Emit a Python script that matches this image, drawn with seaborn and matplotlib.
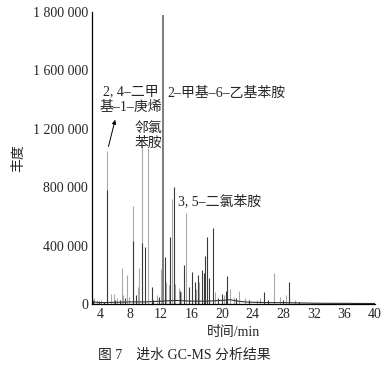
# 进水 GC-MS 总离子流色谱图 (图 7)
import numpy as np
import pandas as pd
import matplotlib
matplotlib.use("Agg")
import matplotlib.pyplot as plt
import seaborn as sns

sns.set_style("white")
plt.rcParams['font.family'] = ['Liberation Serif', 'Noto Sans CJK SC']
plt.rcParams['font.size'] = 10

# 深色谱线 (保留时间/min, 丰度)
dark_t = [3.1, 3.9, 4.5, 4.9, 6.0, 6.6, 7.3, 8.3, 8.7, 9.5, 9.9, 10.8, 11.0, 11.8,
          12.5, 13.2, 13.75, 14.5, 15.0, 15.6, 16.0, 16.4, 16.9, 17.3, 17.6, 17.8,
          18.0, 18.3, 18.8, 19.5, 20.0, 20.5, 20.6, 21.8, 23.5, 25.5, 26.0, 28.0,
          28.7, 30.0, 32.0, 36.0]
dark_h = [30e3, 20e3, 15e3, 780e3, 30e3, 30e3, 40e3, 430e3, 60e3, 420e3, 390e3,
          120e3, 30e3, 45e3, 320e3, 460e3, 800e3, 90e3, 270e3, 120e3, 220e3, 150e3,
          200e3, 230e3, 215e3, 330e3, 460e3, 180e3, 520e3, 40e3, 70e3, 90e3, 190e3,
          40e3, 25e3, 80e3, 30e3, 30e3, 150e3, 15e3, 10e3, 8e3]

# 灰色谱线
grey_t = [3.3, 3.6, 4.2, 4.9, 5.5, 5.8, 6.3, 6.9, 7.1, 7.5, 7.8, 8.3, 9.0, 9.1,
          9.5, 10.3, 11.5, 12.0, 12.7, 13.0, 13.5, 13.9, 14.3, 14.6, 15.3, 16.6, 17.0,
          19.0, 20.3, 21.0, 21.5, 22.2, 23.0, 24.5, 25.0, 26.8, 27.5, 28.3, 29.5]
grey_h = [40e3, 30e3, 25e3, 1050e3, 70e3, 70e3, 40e3, 250e3, 60e3, 200e3, 50e3,
          670e3, 120e3, 250e3, 1080e3, 1070e3, 60e3, 240e3, 150e3, 130e3, 720e3,
          140e3, 110e3, 80e3, 620e3, 100e3, 150e3, 80e3, 60e3, 100e3, 50e3, 90e3,
          40e3, 30e3, 40e3, 215e3, 50e3, 60e3, 30e3]

# 主峰
main_t = [12.25]
main_h = [1980e3]

# 基线
base_t = [3, 4, 6, 8, 10, 12, 14, 16, 18, 20, 21, 22, 23, 24, 26, 28, 30, 32, 34, 36, 38, 40]
base_h = [15e3, 10e3, 12e3, 15e3, 15e3, 20e3, 25e3, 20e3, 20e3, 25e3, 30e3, 20e3,
          15e3, 12e3, 10e3, 10e3, 8e3, 6e3, 5e3, 5e3, 4e3, 4e3]

y_ticks = [0, 400e3, 800e3, 1200e3, 1600e3, 2000e3]
y_labels = ["0", "400 000", "800 000", "1 200 000", "1 600 000", "1 800 000"]
x_ticks = [4, 8, 12, 16, 20, 24, 28, 32, 36, 40]

fig = plt.figure(figsize=(3.92, 3.82), dpi=100)
ax = fig.add_axes([0.235, 0.204, 0.722, 0.765])

ax.vlines(grey_t, 0, grey_h, color="#a8a8a8", linewidth=0.8)
ax.vlines(dark_t, 0, dark_h, color="#3a3a3a", linewidth=0.8)
ax.vlines(main_t, 0, main_h, color="#666666", linewidth=1.2)
sns.lineplot(x=base_t, y=base_h, ax=ax, color="#333333", linewidth=0.8)

ax.set_xlim(3, 40)
ax.set_ylim(0, 2000e3)
ax.set_xticks(x_ticks)
ax.set_yticks(y_ticks)
ax.set_yticklabels(y_labels)
ax.set_yticks(np.arange(200e3, 2000e3, 400e3), minor=True)
ax.tick_params(direction="in", length=3, width=0.8, labelsize=10, pad=3)
ax.tick_params(which="minor", direction="in", length=3, width=0.8)
sns.despine(ax=ax)
for s in ["left", "bottom"]:
    ax.spines[s].set_color("black")
    ax.spines[s].set_linewidth(0.9)

ax.set_xlabel("时间/min", fontsize=10, labelpad=2)
ax.xaxis.set_label_coords(0.5, -0.075)
ax.set_ylabel("丰度", fontsize=10, labelpad=3)
ax.yaxis.set_label_coords(-0.235, 0.5)

# 峰标注
ax.annotate("", xy=(6.1, 1280e3), xytext=(5.05, 1060e3),
            arrowprops=dict(arrowstyle="-|>", color="black", lw=0.7, mutation_scale=6))
ax.text(8.0, 1400e3, "2, 4–二甲\n基–1–庚烯", ha="center", va="center", fontsize=10, linespacing=1.35)
ax.text(10.3, 1150e3, "邻氯\n苯胺", ha="center", va="center", fontsize=10, linespacing=1.2)
ax.text(12.8, 1440e3, "2–甲基–6–乙基苯胺", ha="left", va="center", fontsize=10)
ax.text(14.2, 705e3, "3, 5–二氯苯胺", ha="left", va="center", fontsize=10)

fig.text(0.47, 0.07, "图 7    进水 GC-MS 分析结果", ha="center", va="center", fontsize=10)

fig.savefig("out.png", dpi=100)
